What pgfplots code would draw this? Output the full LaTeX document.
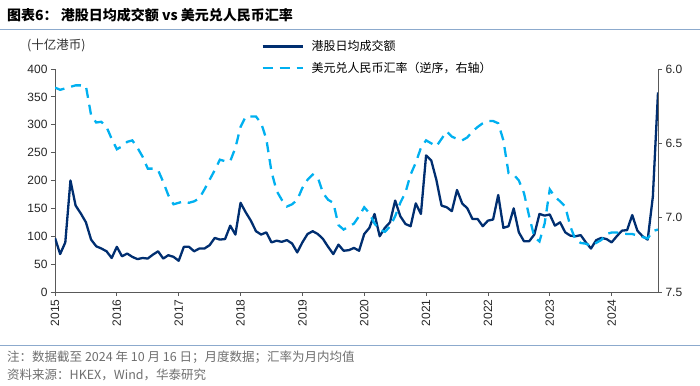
\documentclass[border=0pt]{standalone}
\usepackage{pgfplots}
\usepackage{pgfplotstable}
\pgfplotsset{compat=1.18}
\usepackage{fontspec}
\setmainfont{Liberation Sans}
\newfontfamily\cjk{Noto Sans CJK SC}
\definecolor{navy}{RGB}{0,46,112}
\definecolor{cyanb}{RGB}{0,176,240}
\definecolor{rulec}{RGB}{140,170,205}
\definecolor{notegray}{RGB}{110,110,110}
\pgfplotstableread{
m v
0 97
1 68
2 89
3 200
4 155
5 141
6 125
7 94
8 82
9 78
10 73
11 61
12 81
13 64
14 69
15 63
16 59
17 61
18 60
19 67
20 73
21 60
22 66
23 63
24 56
25 81
26 81
27 73
28 78
29 78
30 84
31 97
32 94
33 95
34 119
35 103
36 160
37 143
38 128
39 109
40 103
41 107
42 89
43 92
44 90
45 93
46 87
47 71
48 89
49 104
50 109
51 104
52 95
53 81
54 68
55 85
56 74
57 75
58 79
59 74
60 104
61 115
62 140
63 100
64 115
65 125
66 164
67 136
68 122
69 118
70 159
71 140
72 245
73 236
74 201
75 155
76 152
77 145
78 183
79 159
80 150
81 131
82 131
83 118
84 128
85 130
86 174
87 115
88 118
89 150
90 107
91 91
92 91
93 103
94 140
95 137
96 139
97 119
98 125
99 107
100 101
101 100
102 102
103 89
104 78
105 93
106 97
107 95
108 89
109 100
110 110
111 111
112 138
113 110
114 100
115 94
116 171
117 358
}\turnover
\pgfplotstableread{
m r
0 6.125
1 6.14
2 6.13
3 6.12
4 6.11
5 6.11
6 6.115
7 6.31
8 6.36
9 6.355
10 6.39
11 6.47
12 6.54
13 6.52
14 6.49
15 6.48
16 6.53
17 6.59
18 6.67
19 6.67
20 6.68
21 6.76
22 6.85
23 6.91
24 6.90
25 6.89
26 6.90
27 6.89
28 6.87
29 6.81
30 6.745
31 6.68
32 6.61
33 6.62
34 6.62
35 6.53
36 6.39
37 6.32
38 6.32
39 6.32
40 6.365
41 6.47
42 6.69
43 6.82
44 6.88
45 6.925
46 6.91
47 6.88
48 6.80
49 6.745
50 6.71
51 6.73
52 6.835
53 6.88
54 6.90
55 7.05
56 7.08
57 7.06
58 7.04
59 6.99
60 6.93
61 6.97
62 7.04
63 7.08
64 7.095
65 7.06
66 6.99
67 6.90
68 6.83
69 6.71
70 6.63
71 6.53
72 6.48
73 6.50
74 6.52
75 6.47
76 6.42
77 6.455
78 6.47
79 6.48
80 6.46
81 6.42
82 6.39
83 6.365
84 6.35
85 6.35
86 6.365
87 6.48
88 6.70
89 6.71
90 6.75
91 6.835
92 6.99
93 7.13
94 7.16
95 7.04
96 6.81
97 6.86
98 6.89
99 6.925
100 7.06
101 7.15
102 7.17
103 7.175
104 7.19
105 7.17
106 7.15
107 7.11
108 7.10
109 7.10
110 7.105
111 7.11
112 7.11
113 7.12
114 7.13
115 7.14
116 7.09
117 7.08
}\fx
\begin{document}
\begin{tikzpicture}[x=1pt,y=1pt]
\path[use as bounding box] (0,0) rectangle (700,385);
\draw[rulec, line width=1pt] (0,355) -- (700,355);
\draw[rulec, line width=1pt] (0,40) -- (700,40);
\node[anchor=west, inner sep=0pt, font=\cjk\bfseries\fontsize{14}{16}\selectfont] at (7,370) {图表6：\ 港股日均成交额 vs 美元兑人民币汇率};
\node[anchor=west, inner sep=0pt, text=black!80, font=\cjk\fontsize{12.5}{14}\selectfont] at (27,340) {(十亿港币)};
\node[anchor=west, inner sep=0pt, text=notegray, font=\cjk\fontsize{12.5}{14}\selectfont] at (7,28) {注：数据截至 2024 年 10 月 16 日；月度数据；汇率为月内均值};
\node[anchor=west, inner sep=0pt, text=notegray, font=\cjk\fontsize{12.5}{14}\selectfont] at (7,10) {资料来源：HKEX，Wind，华泰研究};
\pgfplotsset{
  common/.style={
    at={(55pt,93pt)}, anchor=south west, scale only axis,
    width=603pt, height=223pt,
    xmin=0, xmax=117,
    tick align=outside, major tick length=4pt,
    axis line style={black!65, line width=0.8pt},
    tick style={black!65, line width=0.8pt},
    tick label style={font=\fontsize{12}{14}\selectfont, text=black!85},
    /pgf/number format/assume math mode=true,
  }
}
\begin{axis}[common,
  ymin=0, ymax=400, ytick={0,50,...,400},
  axis x line*=bottom, axis y line*=left,
  xtick={0,12,...,108},
  xticklabels={2015,2016,2017,2018,2019,2020,2021,2022,2023,2024},
  xticklabel style={rotate=90, anchor=east},
  yticklabel style={/pgf/number format/1000 sep={}},
]
\addplot[navy, line width=2.3pt, line join=round] table[x=m,y=v]{\turnover};
\end{axis}
\begin{axis}[common,
  ymin=6, ymax=7.5, y dir=reverse, ytick={6,6.5,7,7.5},
  axis y line*=right, axis x line=none, xtick=\empty,
  yticklabel style={/pgf/number format/.cd, fixed, fixed zerofill, precision=1},
  legend style={at={(0.342,1.137)}, anchor=north west, draw=none, fill=none,
    font=\cjk\fontsize{12}{14}\selectfont, row sep=6pt, inner sep=0pt},
  legend cell align=left,
  legend image code/.code={\draw[#1] (0pt,0pt) -- (40pt,0pt); \path (46pt,0pt);},
]
\addlegendimage{navy, line width=2.3pt}
\addlegendentry{港股日均成交额}
\addplot[cyanb, line width=2.3pt, dash pattern=on 10pt off 7pt] table[x=m,y=r]{\fx};
\addlegendentry{美元兑人民币汇率（逆序，右轴）}
\end{axis}
\end{tikzpicture}
\end{document}
